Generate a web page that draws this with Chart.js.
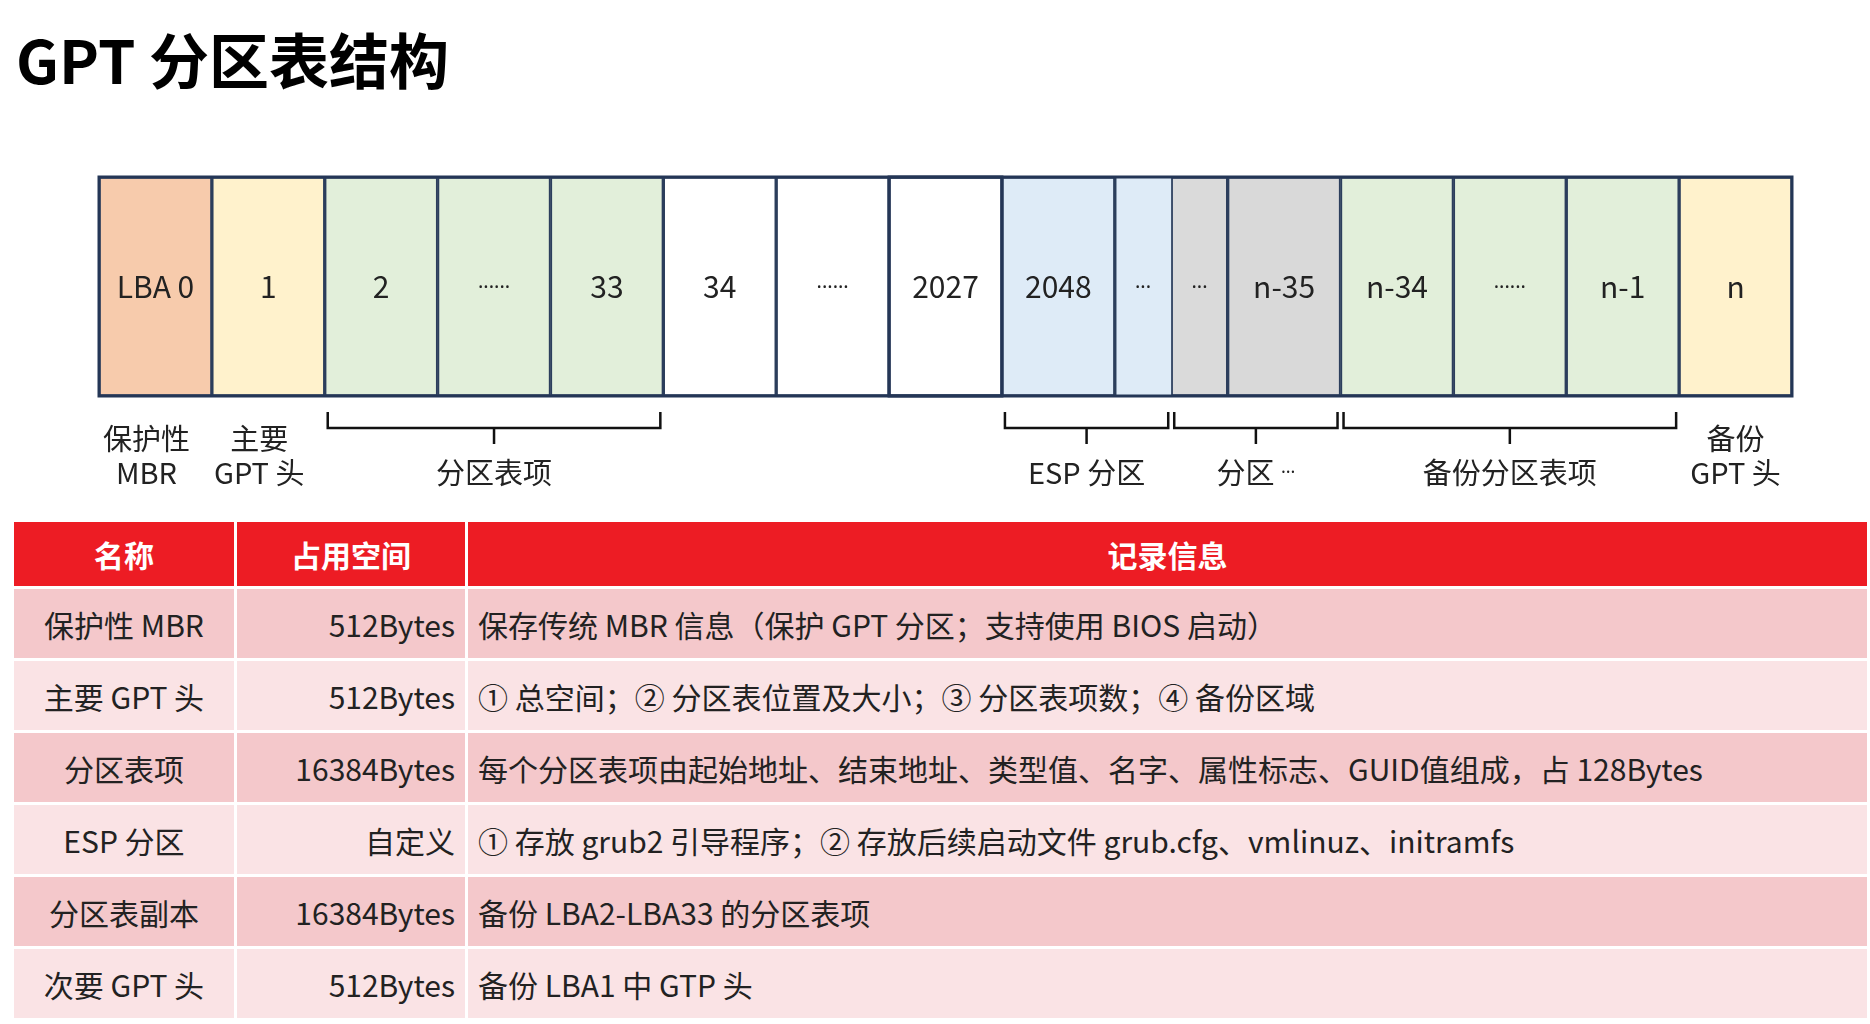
<!DOCTYPE html>
<html>
<head>
<meta charset="utf-8">
<script src="https://cdn.jsdelivr.net/npm/chart.js@4"></script>
<style>
  body { margin: 0; width: 1870px; height: 1024px; background: #fff; position: relative; overflow: hidden;
         font-family: "Noto Sans CJK SC", "Noto Sans", sans-serif; }
  h1 { position: absolute; left: 16px; top: 14px; margin: 0; font-size: 60px; font-weight: 700; color: #000; }
  #wrap { position: absolute; left: 0; top: 140px; width: 1870px; height: 370px; }
  table { position: absolute; left: 11px; top: 519px; width: 1859px; border-collapse: separate; border-spacing: 3px; }
  td, th { font-size: 30px; color: #222; padding: 0 10px; height: 69px; white-space: nowrap; }
  th { background: #ed1c24; color: #fff; font-weight: 700; height: 64px; }
  tr.a td { background: #f4c8cb; }
  tr.b td { background: #fae3e5; }
  td.c0 { text-align: center; width: 200px; }
  td.c1 { text-align: right; width: 208px; }
  .el { font-family: "Noto Sans", sans-serif; }
</style>
</head>
<body>
<h1>GPT 分区表结构</h1>
<div id="wrap"><canvas id="strip"></canvas></div>
<table id="tbl"></table>
<script>
// block strip
const cellLabels = ['LBA 0', '1', '2', '......', '33', '34', '......', '2027', '2048', '...', '...', 'n-35', 'n-34', '......', 'n-1', 'n'];
const cellWidths = [1, 1, 1, 1, 1, 1, 1, 1, 1, 0.5, 0.5, 1, 1, 1, 1, 1];
const cellColors = ['#f7cbac', '#fff2cc', '#e2efda', '#e2efda', '#e2efda', '#ffffff', '#ffffff', '#ffffff',
                    '#deebf7', '#deebf7', '#dadada', '#d9d9d9', '#e2efda', '#e2efda', '#e2efda', '#fff2cc'];
// brackets: [from, to, label]
const brackets = [[2, 5, '分区表项'], [8, 9.5, 'ESP 分区'], [9.5, 11, '分区 ...'], [11, 14, '备份分区表项']];
// plain labels under single blocks: [center, line1, line2]
const underLabels = [[0.42, '保护性', 'MBR'], [1.42, '主要', 'GPT 头'], [14.5, '备份', 'GPT 头']];

// table
const tableHeader = ['名称', '占用空间', '记录信息'];
const tableNames = ['保护性 MBR', '主要 GPT 头', '分区表项', 'ESP 分区', '分区表副本', '次要 GPT 头'];
const tableSizes = ['512Bytes', '512Bytes', '16384Bytes', '自定义', '16384Bytes', '512Bytes'];
const tableInfo = [
  '保存传统 MBR 信息（保护 GPT 分区；支持使用 BIOS 启动）',
  '① 总空间；② 分区表位置及大小；③ 分区表项数；④ 备份区域',
  '每个分区表项由起始地址、结束地址、类型值、名字、属性标志、GUID值组成，占 128Bytes',
  '① 存放 grub2 引导程序；② 存放后续启动文件 grub.cfg、vmlinuz、initramfs',
  '备份 LBA2-LBA33 的分区表项',
  '备份 LBA1 中 GTP 头'
];

const tbl = document.getElementById('tbl');
tbl.innerHTML = '<tr>' + tableHeader.map(h => `<th>${h}</th>`).join('') + '</tr>' +
  tableNames.map((n, i) => `<tr class="${i % 2 ? 'b' : 'a'}"><td class="c0">${n}</td><td class="c1">${tableSizes[i]}</td><td>${tableInfo[i]}</td></tr>`).join('');

const font = '"Noto Sans CJK SC", "Noto Sans", sans-serif';
const latin = '"Noto Sans", sans-serif';

const overlay = {
  id: 'overlay',
  afterDatasetsDraw(chart) {
    const { ctx, chartArea: a, scales: { x } } = chart;
    ctx.save();
    ctx.textAlign = 'center';
    ctx.textBaseline = 'middle';
    ctx.fillStyle = '#222';
    let pos = 0;
    cellLabels.forEach((t, i) => {
      const cx = x.getPixelForValue(pos + cellWidths[i] / 2);
      const dots = t.startsWith('.');
      ctx.font = dots ? '20px ' + latin : '30px ' + font;
      ctx.fillText(t, cx, (a.top + a.bottom) / 2 + (dots ? -4 : 0));
      pos += cellWidths[i];
    });
    // border around 2027 block
    ctx.strokeStyle = '#243656';
    ctx.lineWidth = 3;
    ctx.strokeRect(x.getPixelForValue(7), a.top, x.getPixelForValue(8) - x.getPixelForValue(7), a.bottom - a.top);
    ctx.strokeRect(a.left, a.top, a.right - a.left, a.bottom - a.top);

    // brackets
    ctx.lineWidth = 2.5;
    ctx.strokeStyle = '#111';
    ctx.font = '29px ' + font;
    const yTop = a.bottom + 16, yMid = a.bottom + 32, yTip = a.bottom + 48;
    brackets.forEach(([f, t, label]) => {
      const x0 = x.getPixelForValue(f) + 3, x1 = x.getPixelForValue(t) - 3, xm = (x0 + x1) / 2;
      ctx.beginPath();
      ctx.moveTo(x0, yTop); ctx.lineTo(x0, yMid); ctx.lineTo(x1, yMid); ctx.lineTo(x1, yTop);
      ctx.moveTo(xm, yMid); ctx.lineTo(xm, yTip);
      ctx.stroke();
      if (label.endsWith('...')) {
        const main = label.replace(' ...', ' ');
        const w = ctx.measureText(main).width;
        ctx.font = '18px ' + latin;
        const w2 = ctx.measureText('...').width;
        ctx.textAlign = 'left';
        ctx.fillText('...', xm - (w + w2) / 2 + w, a.bottom + 72);
        ctx.font = '29px ' + font;
        ctx.fillText(main, xm - (w + w2) / 2, a.bottom + 77);
        ctx.textAlign = 'center';
      } else {
        ctx.fillText(label, xm, a.bottom + 77);
      }
    });
    underLabels.forEach(([c, l1, l2]) => {
      const cx = x.getPixelForValue(c);
      ctx.fillText(l1, cx, a.bottom + 43);
      ctx.fillText(l2, cx, a.bottom + 77);
    });
    ctx.restore();
  }
};

new Chart(document.getElementById('strip'), {
  type: 'bar',
  data: {
    labels: ['LBA'],
    datasets: cellLabels.map((l, i) => ({
      label: l,
      data: [cellWidths[i]],
      backgroundColor: cellColors[i],
      borderColor: '#2c3e5c',
      borderWidth: (i === 9) ? { top: 0, bottom: 0, left: 2, right: 0 } : 2,
      borderSkipped: false,
      barPercentage: 1,
      categoryPercentage: 1
    }))
  },
  options: {
    indexAxis: 'y',
    responsive: true,
    maintainAspectRatio: false,
    animation: false,
    layout: { padding: { left: 99, right: 78, top: 37, bottom: 114 } },
    scales: {
      x: { stacked: true, min: 0, max: 15, display: false },
      y: { stacked: true, display: false }
    },
    plugins: { legend: { display: false }, tooltip: { enabled: false } }
  },
  plugins: [overlay]
});
</script>
</body>
</html>
